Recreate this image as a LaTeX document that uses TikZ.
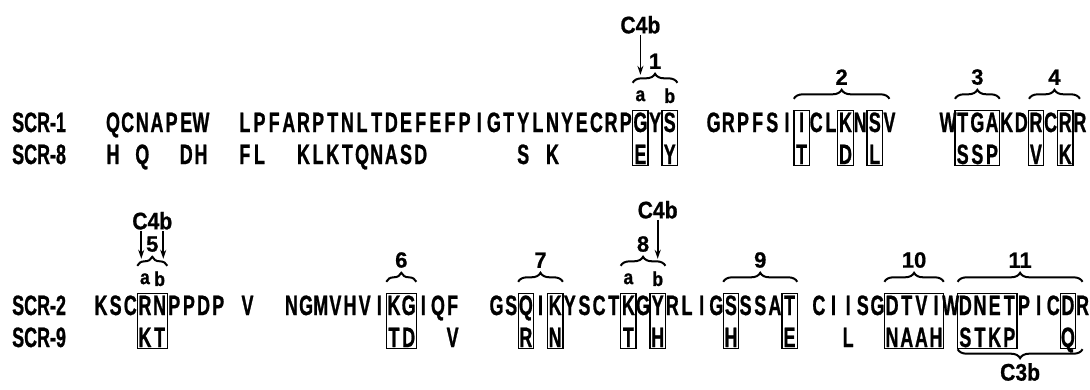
\documentclass[tikz,border=0pt]{standalone}
\usepackage{fontspec}
\setmainfont{Liberation Sans}[FakeStretch=0.64, BoldFeatures={FakeBold=0.8}]
\newfontfamily\tagfont{Liberation Sans}[FakeStretch=0.88, BoldFeatures={FakeBold=0.8}]
\newfontfamily\numfont{Liberation Sans}[BoldFeatures={FakeBold=0.8}]
\usetikzlibrary{
  arrows.meta,
  calc,
  decorations.pathreplacing,
  fit
}

\tikzset{
  res/.style={font=\bfseries\fontsize{28}{28}\selectfont, inner xsep=0pt,
    inner ysep=1pt, text height=20pt, text depth=0pt, minimum width=15pt},
  seqname/.style={res, anchor=west},
  resbox/.style={draw, line width=1.3pt, inner sep=0pt},
  brc/.style={decorate, decoration={brace, amplitude=9pt}, line width=2pt},
  num/.style={font=\numfont\bfseries\fontsize{22}{22}\selectfont, inner sep=1pt},
  tag/.style={font=\tagfont\bfseries\fontsize{24}{24}\selectfont, inner sep=1pt},
  sub/.style={font=\tagfont\bfseries\fontsize{20}{20}\selectfont, inner sep=0pt},
  arr/.style={-{Stealth[length=9pt,width=6pt]}, line width=1.8pt}
}

\begin{document}
\begin{tikzpicture}[x=1pt,y=1pt]
\useasboundingbox (0,0) rectangle (1090,-389);

% sequence names
\node[seqname] (scr1) at (12,-122) {SCR-1};
\node[seqname] (scr8) at (12,-154) {SCR-8};
\node[seqname] (scr2) at (12,-305) {SCR-2};
\node[seqname] (scr9) at (12,-337) {SCR-9};

% residues, one column each
\foreach \c/\seq in {0/{Q,C,N,A,P,E,W},
    9/{L,P,F,A,R,P,T,N,L,T,D,E,F,E,F,P,I,G,T,Y,L,N,Y,E,C,R,P,G,Y,S},
    41/{G,R,P,F,S,I,I,C,L,K,N,S,V}, 57/{W,T,G,A,K,D,R,C,R,R}}
  \foreach \ch [count=\k from \c] in \seq
    \node[res] (s1-\k) at ({113+14.65*\k},-122) {\ch};
\foreach \c/\seq in {0/H, 2/Q, 5/{D,H}, 9/{F,L}, 13/{K,L,K,T,Q,N,A,S,D},
    28/S, 30/K, 36/E, 38/Y, 47/T, 50/D, 52/L, 58/{S,S,P}, 63/V, 65/K}
  \foreach \ch [count=\k from \c] in \seq
    \node[res] (s8-\k) at ({113+14.65*\k},-154) {\ch};
\foreach \c/\seq in {0/{K,S,C,R,N,P,P,D,P}, 10/V,
    13/{N,G,M,V,H,V,I,K,G,I,Q,F},
    27/{G,S,Q,I,K,Y,S,C,T,K,G,Y,R,L,I,G,S,S,S,A,T},
    49/{C,I,I,S,G,D,T,V,I,W,D,N,E,T,P,I,C,D,R}}
  \foreach \ch [count=\k from \c] in \seq
    \node[res] (s2-\k) at ({101+14.65*\k},-305) {\ch};
\foreach \c/\seq in {3/{K,T}, 20/{T,D}, 24/V, 29/R, 31/N, 36/T, 38/H,
    43/H, 47/E, 51/L, 54/{N,A,A,H}, 59/{S,T,K,P}, 66/Q}
  \foreach \ch [count=\k from \c] in \seq
    \node[res] (s9-\k) at ({101+14.65*\k},-337) {\ch};

% boxed columns
\foreach \a/\b in {36/36, 38/38, 47/47, 50/50, 52/52, 58/60, 63/63, 65/65}
  \node[resbox, fit=(s1-\a)(s8-\b)] (box1-\a) {};
\foreach \a/\b in {3/4, 20/21, 29/29, 31/31, 36/36, 38/38, 43/43, 47/47,
    54/57, 59/62, 66/66}
  \node[resbox, fit=(s2-\a)(s9-\b)] (box2-\a) {};

% sites, upper block
\draw[brc] ([yshift=28pt]s1-36.north west) -- node[num, above=12pt] (n1) {1} ([yshift=28pt]s1-38.north east);
\node[sub] (a1) at ([yshift=15pt]s1-36.north) {a};
\node[sub] (b1) at ([yshift=15pt]s1-38.north) {b};
\node[tag] (c4b1) at ([yshift=86pt]s1-36.north) {C4b};
\coordinate (k1) at ([yshift=36pt]s1-36.north);
\draw[arr] (c4b1) -- (k1);
\draw[brc] ([yshift=12pt]s1-47.north west) -- node[num, above=12pt] (n2) {2} ([yshift=12pt]s1-53.north);
\draw[brc] ([yshift=12pt]s1-58.north west) -- node[num, above=12pt] (n3) {3} ([yshift=12pt]s1-60.north east);
\draw[brc] ([yshift=12pt]s1-62.north east) -- node[num, above=12pt] (n4) {4} ([yshift=12pt]s1-66.north);

% sites, lower block
\draw[brc] ([yshift=28pt]s2-3.north west) -- node[num, above=12pt] (n5) {5} ([yshift=28pt]s2-4.north east);
\node[sub] (a5) at ([yshift=15pt]s2-3.north) {a};
\node[sub] (b5) at ([yshift=15pt]s2-4.north) {b};
\node[tag] (c4b5) at ([yshift=73pt]$(s2-3.north)!0.5!(s2-4.north)$) {C4b};
\coordinate (k5a) at ([xshift=-11pt,yshift=35pt]$(s2-3.north)!0.5!(s2-4.north)$);
\coordinate (k5b) at ([xshift=11pt,yshift=35pt]$(s2-3.north)!0.5!(s2-4.north)$);
\draw[arr] (c4b5.south -| k5a) -- (k5a);
\draw[arr] (c4b5.south -| k5b) -- (k5b);
\draw[brc] ([yshift=12pt]s2-20.north west) -- node[num, above=12pt] (n6) {6} ([yshift=12pt]s2-21.north east);
\draw[brc] ([yshift=12pt]s2-29.north west) -- node[num, above=12pt] (n7) {7} ([yshift=12pt]s2-31.north east);
\draw[brc] ([yshift=28pt]s2-36.north west) -- node[num, above=12pt] (n8) {8} ([yshift=28pt]s2-38.north east);
\node[sub] (a8) at ([yshift=15pt]s2-36.north) {a};
\node[sub] (b8) at ([yshift=15pt]s2-38.north) {b};
\node[tag] (c4b8) at ([yshift=84pt]s2-38.north) {C4b};
\coordinate (k8) at ([yshift=35pt]s2-38.north);
\draw[arr] (c4b8) -- (k8);
\draw[brc] ([yshift=12pt]s2-43.north west) -- node[num, above=12pt] (n9) {9} ([yshift=12pt]s2-47.north east);
\draw[brc] ([yshift=12pt]s2-54.north west) -- node[num, above=12pt] (n10) {10} ([yshift=12pt]s2-57.north east);
\draw[brc] ([yshift=12pt]s2-59.north west) -- node[num, above=12pt] (n11) {11} ([yshift=12pt]s2-67.north);
\draw[brc] ([yshift=-1pt]s9-59.south west -| s2-67) -- node[tag, below=12pt] (c3b) {C3b} ([yshift=-1pt]s9-59.south west);
\end{tikzpicture}
\end{document}
